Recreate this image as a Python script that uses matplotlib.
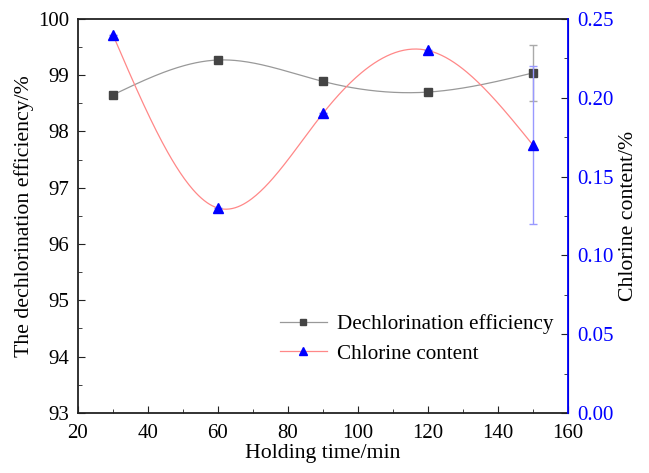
import numpy as np
import matplotlib.pyplot as plt
from matplotlib.ticker import MultipleLocator

plt.rcParams['font.family'] = ['Liberation Serif', 'DejaVu Serif']
plt.rcParams['mathtext.fontset'] = 'stix'

# data
time_min = [30, 60, 90, 120, 150]
dechlorination = [98.65, 99.27, 98.89, 98.70, 99.04]
dechlorination_err = [0, 0, 0, 0, 0.5]
chlorine = [0.24, 0.13, 0.19, 0.23, 0.17]
chlorine_err = [0, 0, 0, 0, 0.05]


def natural_spline(x, y, n=300):
    """Natural cubic spline through the points, for the smooth connecting line."""
    x = np.asarray(x, float)
    y = np.asarray(y, float)
    k = len(x)
    h = np.diff(x)
    A = np.zeros((k, k))
    b = np.zeros(k)
    A[0, 0] = A[-1, -1] = 1
    for i in range(1, k - 1):
        A[i, i - 1] = h[i - 1]
        A[i, i] = 2 * (h[i - 1] + h[i])
        A[i, i + 1] = h[i]
        b[i] = 6 * ((y[i + 1] - y[i]) / h[i] - (y[i] - y[i - 1]) / h[i - 1])
    m = np.linalg.solve(A, b)
    xs = np.linspace(x[0], x[-1], n)
    idx = np.clip(np.searchsorted(x, xs) - 1, 0, k - 2)
    x0, x1 = x[idx], x[idx + 1]
    hh = x1 - x0
    t0, t1 = x1 - xs, xs - x0
    ys = (m[idx] * t0**3 / (6 * hh) + m[idx + 1] * t1**3 / (6 * hh)
          + (y[idx] / hh - m[idx] * hh / 6) * t0
          + (y[idx + 1] / hh - m[idx + 1] * hh / 6) * t1)
    return xs, ys


fig = plt.figure(figsize=(6.49, 4.73), dpi=100)
ax = fig.add_axes([0.120, 0.127, 0.755, 0.833])
ax2 = ax.twinx()

xs, ys = natural_spline(time_min, dechlorination)
ax.plot(xs, ys, color='#999999', lw=0.9, zorder=2)
ax.errorbar(time_min, dechlorination, yerr=dechlorination_err, fmt='none',
            ecolor='#aaaaaa', elinewidth=1, capsize=3, capthick=1, zorder=2)
ax.plot(time_min, dechlorination, ls='none', marker='s', ms=5.5,
        color='#444444', zorder=3)

xs2, ys2 = natural_spline(time_min, chlorine)
ax2.plot(xs2, ys2, color='#ff8888', lw=0.9, zorder=2)
ax2.errorbar(time_min, chlorine, yerr=chlorine_err, fmt='none',
             ecolor='#9999ff', elinewidth=1, capsize=3, capthick=1, zorder=2)
ax2.plot(time_min, chlorine, ls='none', marker='^', ms=7.5,
         color='#0000ff', zorder=3)

ax.set_xlim(20, 160)
ax.set_ylim(93, 100)
ax2.set_ylim(0, 0.25)

ax.xaxis.set_major_locator(MultipleLocator(20))
ax.xaxis.set_minor_locator(MultipleLocator(10))
ax.yaxis.set_major_locator(MultipleLocator(1))
ax.yaxis.set_minor_locator(MultipleLocator(0.5))
ax2.yaxis.set_major_locator(MultipleLocator(0.05))
ax2.yaxis.set_minor_locator(MultipleLocator(0.025))
ax2.yaxis.set_major_formatter(plt.FormatStrFormatter('%.2f'))

ax.tick_params(which='both', direction='in', labelsize=15, top=False, right=False,
               color='#222222')
ax.tick_params(axis='y', which='both', pad=6.5)
ax.tick_params(axis='x', which='both', pad=8)
ax.tick_params(which='major', length=5)
ax.tick_params(which='minor', length=3)
ax2.tick_params(which='both', direction='in', labelsize=15, labelcolor='#0000ff',
                color='#222222', pad=6.5)
ax2.tick_params(which='major', length=5)
ax2.tick_params(which='minor', length=3)

for s in ['left', 'bottom', 'top']:
    ax.spines[s].set_color('#222222')
    ax.spines[s].set_linewidth(1.3)
ax2.spines['right'].set_color('#0000ff')
ax2.spines['right'].set_linewidth(1.3)
ax2.spines['top'].set_visible(False)
ax2.spines['left'].set_visible(False)
ax2.spines['bottom'].set_visible(False)

ax.set_xlabel('Holding time/min', fontsize=15.7, labelpad=1)
ax.set_ylabel('The dechlorination efficiency/%', fontsize=15.7, labelpad=3)
ax2.set_ylabel('Chlorine content/%', fontsize=15.7, labelpad=4)

h1, = ax.plot([], [], color='#999999', lw=0.9, marker='s', ms=4.5,
              mfc='#444444', mec='#444444')
h2, = ax.plot([], [], color='#ff8888', lw=0.9, marker='^', ms=6,
              mfc='#0000ff', mec='#0000ff')
ax.legend([h1, h2], ['Dechlorination efficiency', 'Chlorine content'],
          loc='lower right', bbox_to_anchor=(1.01, 0.077), frameon=False,
          fontsize=15.2, handlelength=2.2, handletextpad=0.5, labelspacing=0.45)

fig.savefig('out.png', dpi=100)
